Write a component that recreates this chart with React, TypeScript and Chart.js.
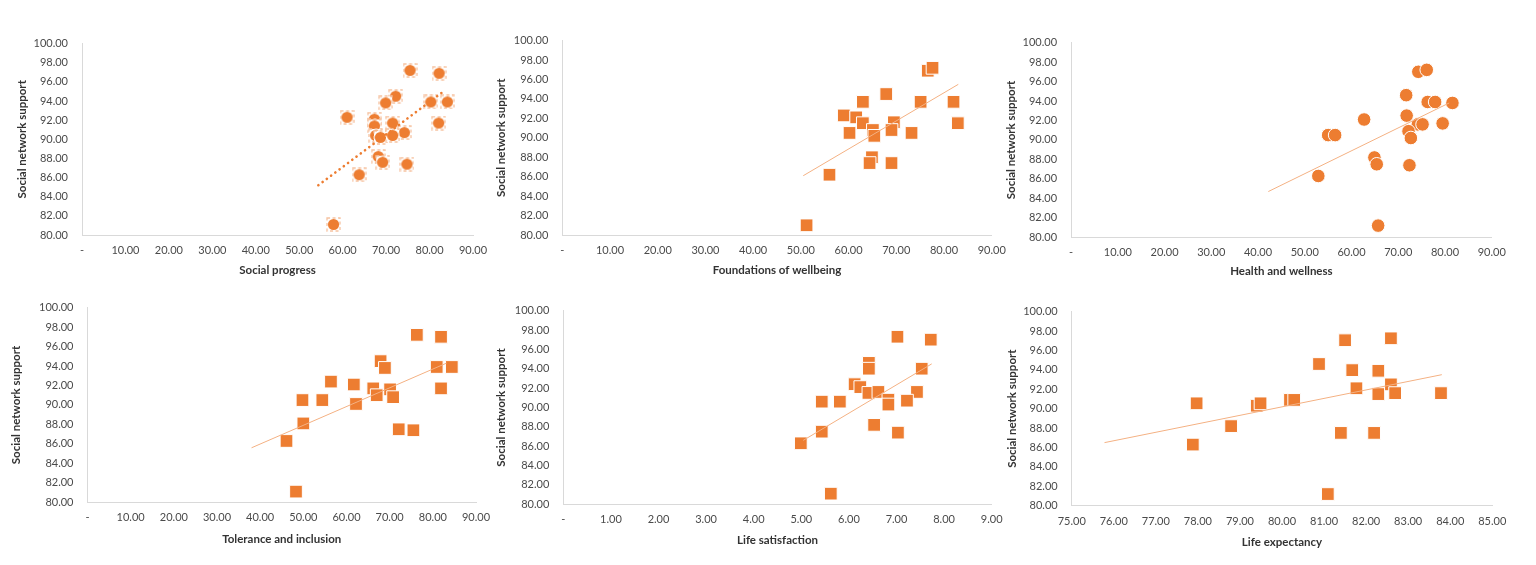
import React, { useEffect, useRef } from 'react';
import { Chart, registerables } from 'chart.js';

Chart.register(...registerables);

// ---------- DATA ----------
const yAxisTitle = 'Social network support';
const yMin = 80;
const yMax = 100;
const yStep = 2;

// Panel 1: Social progress
const socialProgressX = [75.5, 82.2, 72.2, 69.9, 80.3, 84.1, 61.0, 67.3, 67.3, 71.5, 82.1, 74.2, 67.6, 68.7, 71.5, 68.2, 69.2, 74.8, 63.8, 57.9];
const socialProgressY = [97.2, 96.9, 94.5, 93.8, 93.9, 93.9, 92.3, 92.1, 91.4, 91.7, 91.7, 90.7, 90.4, 90.2, 90.4, 88.2, 87.6, 87.4, 86.3, 81.1];
const socialProgressTrendX = [54.4, 83.5];
const socialProgressTrendY = [85.2, 95.1];

// Panel 2: Foundations of wellbeing
const foundationsX = [76.6, 77.6, 67.9, 63.0, 75.1, 82.0, 59.0, 61.6, 63.0, 69.5, 82.9, 65.1, 69.0, 60.2, 65.4, 73.2, 64.9, 64.4, 69.0, 56.0, 51.2];
const foundationsY = [96.9, 97.2, 94.5, 93.7, 93.7, 93.7, 92.3, 92.1, 91.5, 91.6, 91.5, 90.8, 90.8, 90.5, 90.2, 90.5, 88.0, 87.4, 87.4, 86.2, 81.0];
const foundationsTrendX = [50.5, 83.0];
const foundationsTrendY = [86.1, 95.5];

// Panel 3: Health and wellness
const healthX = [74.3, 76.1, 71.7, 76.3, 77.9, 81.6, 62.7, 71.8, 74.2, 75.2, 79.5, 72.2, 55.0, 56.5, 72.7, 64.9, 65.4, 72.4, 52.9, 65.7];
const healthY = [97.0, 97.2, 94.6, 93.9, 93.9, 93.8, 92.1, 92.5, 91.6, 91.6, 91.7, 90.9, 90.5, 90.5, 90.2, 88.2, 87.5, 87.4, 86.3, 81.2];
const healthTrendX = [42.2, 80.9];
const healthTrendY = [84.7, 93.8];

// Panel 4: Tolerance and inclusion
const toleranceX = [76.3, 81.9, 67.9, 68.9, 80.9, 84.4, 56.4, 61.7, 66.2, 70.1, 81.9, 67.0, 70.8, 49.8, 54.4, 62.2, 50.0, 72.1, 75.5, 46.1, 48.3];
const toleranceY = [97.2, 97.0, 94.5, 93.8, 93.9, 93.9, 92.4, 92.1, 91.7, 91.6, 91.7, 91.0, 90.8, 90.5, 90.5, 90.1, 88.1, 87.5, 87.4, 86.3, 81.1];
const toleranceTrendX = [38.0, 83.2];
const toleranceTrendY = [85.6, 94.3];

// Panel 5: Life satisfaction
const lifeSatX = [7.02, 7.72, 6.42, 6.42, 7.53, 6.12, 6.24, 6.41, 6.62, 7.43, 6.83, 6.83, 7.22, 5.43, 5.81, 6.53, 7.03, 5.43, 4.99, 5.62];
const lifeSatY = [97.3, 97.0, 94.6, 94.0, 94.0, 92.4, 92.1, 91.5, 91.6, 91.6, 90.8, 90.3, 90.7, 90.6, 90.6, 88.2, 87.4, 87.5, 86.3, 81.1];
const lifeSatTrendX = [5.04, 7.74];
const lifeSatTrendY = [86.6, 94.5];

// Panel 6: Life expectancy
const lifeExpX = [77.88, 77.97, 78.79, 79.40, 79.49, 80.19, 80.29, 80.88, 81.09, 81.40, 81.50, 81.67, 81.77, 82.19, 82.29, 82.29, 82.59, 82.59, 82.69, 83.78];
const lifeExpY = [86.3, 90.55, 88.2, 90.3, 90.55, 90.9, 90.9, 94.6, 81.2, 87.5, 97.05, 93.97, 92.1, 87.5, 93.9, 91.5, 97.25, 92.5, 91.6, 91.6];
const lifeExpTrendX = [75.78, 83.8];
const lifeExpTrendY = [86.5, 93.5];

// ---------- STYLE ----------
const ORANGE = '#ED7D31';
const TREND_LIGHT = '#F4B183';
const FONT = 'Lato, "Open Sans", "DejaVu Sans", sans-serif';
const TICK_COLOR = '#4A4A4A';
const TITLE_COLOR = '#333333';
const AXIS_COLOR = '#D9D9D9';
const TICK_SIZE = 11;
const TITLE_SIZE = 11.5;

type Marker = 'ringSquare' | 'square' | 'circle';

interface PanelCfg {
  xs: number[];
  ys: number[];
  tx: number[];
  ty: number[];
  xMin: number;
  xMax: number;
  xStep: number;
  xTitle: string;
  marker: Marker;
  dotted: boolean;
  box: { L: number; R: number; T: number; B: number; titleX: number; xTitleY: number };
}

const panels: PanelCfg[] = [
  { xs: socialProgressX, ys: socialProgressY, tx: socialProgressTrendX, ty: socialProgressTrendY, xMin: 0, xMax: 90, xStep: 10, xTitle: 'Social progress', marker: 'ringSquare', dotted: true,
    box: { L: 82, R: 473, T: 39.3, B: 235, titleX: 22, xTitleY: 270.5 } },
  { xs: foundationsX, ys: foundationsY, tx: foundationsTrendX, ty: foundationsTrendY, xMin: 0, xMax: 90, xStep: 10, xTitle: 'Foundations of wellbeing', marker: 'square', dotted: false,
    box: { L: 562.3, R: 991.7, T: 36, B: 235, titleX: 500.5, xTitleY: 270.5 } },
  { xs: healthX, ys: healthY, tx: healthTrendX, ty: healthTrendY, xMin: 0, xMax: 90, xStep: 10, xTitle: 'Health and wellness', marker: 'circle', dotted: false,
    box: { L: 1071.1, R: 1491.7, T: 38.3, B: 237.3, titleX: 1010.5, xTitleY: 271 } },
  { xs: toleranceX, ys: toleranceY, tx: toleranceTrendX, ty: toleranceTrendY, xMin: 0, xMax: 90, xStep: 10, xTitle: 'Tolerance and inclusion', marker: 'square', dotted: false,
    box: { L: 87.5, R: 476, T: 303.3, B: 502.3, titleX: 16, xTitleY: 539 } },
  { xs: lifeSatX, ys: lifeSatY, tx: lifeSatTrendX, ty: lifeSatTrendY, xMin: 0, xMax: 9, xStep: 1, xTitle: 'Life satisfaction', marker: 'square', dotted: false,
    box: { L: 563.3, R: 991.7, T: 305.7, B: 504.3, titleX: 500.5, xTitleY: 540.3 } },
  { xs: lifeExpX, ys: lifeExpY, tx: lifeExpTrendX, ty: lifeExpTrendY, xMin: 75, xMax: 85, xStep: 1, xTitle: 'Life expectancy', marker: 'square', dotted: false,
    box: { L: 1071.7, R: 1492.3, T: 306.7, B: 505.7, titleX: 1011.5, xTitleY: 541.7 } },
];

function computeLayout(b: PanelCfg['box']) {
  const lh = (TITLE_SIZE * 1.2) / 2;
  const cx = Math.round(b.titleX - lh);
  const cy = Math.round(b.T - 16);
  const cw = Math.round(b.R + 24 - cx);
  const ch = Math.round(b.xTitleY + lh - cy);
  return {
    cx, cy, cw, ch,
    yW: b.L - cx,
    padTop: b.T - cy,
    padRight: cx + cw - b.R,
    xH: ch - (b.B - cy),
  };
}

function makeRingSquare(): HTMLCanvasElement {
  const m = document.createElement('canvas');
  m.width = 15;
  m.height = 15;
  const g = m.getContext('2d')!;
  g.fillStyle = '#ffffff';
  g.fillRect(1, 1, 13, 13);
  g.strokeStyle = '#F6C2A0';
  g.lineWidth = 1.3;
  g.setLineDash([3, 2.5]);
  g.strokeRect(1, 1, 13, 13);
  g.setLineDash([]);
  g.beginPath();
  g.arc(7.5, 7.5, 5.6, 0, Math.PI * 2);
  g.fillStyle = ORANGE;
  g.fill();
  return m;
}

function fmt(v: number | string) {
  const n = Number(v);
  return n === 0 ? '-' : n.toFixed(2);
}

function Panel({ cfg }: { cfg: PanelCfg }) {
  const ref = useRef<HTMLCanvasElement>(null);
  const lay = computeLayout(cfg.box);

  useEffect(() => {
    if (!ref.current) return;
    let pointStyle: any = 'rect';
    let pointRadius = 9;
    if (cfg.marker === 'circle') {
      pointStyle = 'circle';
      pointRadius = 6.8;
    } else if (cfg.marker === 'ringSquare') {
      pointStyle = makeRingSquare();
      pointRadius = 7;
    }
    const tickFont = { family: FONT, size: TICK_SIZE };
    const titleFont = { family: FONT, size: TITLE_SIZE, weight: 'bold' as const };

    const chart = new Chart(ref.current, {
      type: 'scatter',
      data: {
        datasets: [
          {
            data: cfg.tx.map((x, i) => ({ x, y: cfg.ty[i] })),
            showLine: true,
            pointRadius: 0,
            borderColor: cfg.dotted ? ORANGE : TREND_LIGHT,
            borderWidth: cfg.dotted ? 2.6 : 1,
            borderDash: cfg.dotted ? [0.1, 5.2] : [],
            borderCapStyle: cfg.dotted ? 'round' : 'butt',
            fill: false,
          } as any,
          {
            data: cfg.xs.map((x, i) => ({ x, y: cfg.ys[i] })),
            pointStyle,
            pointRadius,
            backgroundColor: ORANGE,
            borderColor: '#FFFFFF',
            borderWidth: cfg.marker === 'ringSquare' ? 0 : 1,
          } as any,
        ],
      },
      options: {
        animation: false,
        responsive: false,
        maintainAspectRatio: false,
        events: [],
        layout: { padding: { left: 0, top: lay.padTop, right: lay.padRight, bottom: 0 } },
        plugins: { legend: { display: false }, tooltip: { enabled: false } },
        scales: {
          x: {
            type: 'linear',
            min: cfg.xMin,
            max: cfg.xMax,
            grid: { display: false, drawTicks: false },
            border: { display: true, color: AXIS_COLOR, width: 1 },
            ticks: {
              stepSize: cfg.xStep,
              autoSkip: false,
              maxRotation: 0,
              padding: 9,
              color: TICK_COLOR,
              font: tickFont,
              callback: (v: any) => fmt(v),
            },
            title: { display: true, text: cfg.xTitle, color: TITLE_COLOR, font: titleFont, padding: 0 },
            afterFit: (s: any) => { s.height = lay.xH; },
          },
          y: {
            type: 'linear',
            min: yMin,
            max: yMax,
            grid: { display: false, drawTicks: false },
            border: { display: true, color: AXIS_COLOR, width: 1 },
            ticks: {
              stepSize: yStep,
              autoSkip: false,
              padding: 14,
              color: TICK_COLOR,
              font: tickFont,
              callback: (v: any) => fmt(v),
            },
            title: { display: true, text: yAxisTitle, color: TITLE_COLOR, font: titleFont, padding: 0 },
            afterFit: (s: any) => { s.width = lay.yW; },
          },
        },
      },
    });
    return () => chart.destroy();
  }, []);

  return (
    <canvas
      ref={ref}
      width={lay.cw}
      height={lay.ch}
      style={{ position: 'absolute', left: lay.cx, top: lay.cy, width: lay.cw, height: lay.ch }}
    />
  );
}

export default function App() {
  return (
    <div style={{ position: 'absolute', left: 0, top: 0, width: 1536, height: 565, background: '#ffffff', overflow: 'hidden' }}>
      {panels.map((p, i) => (
        <Panel key={i} cfg={p} />
      ))}
    </div>
  );
}
